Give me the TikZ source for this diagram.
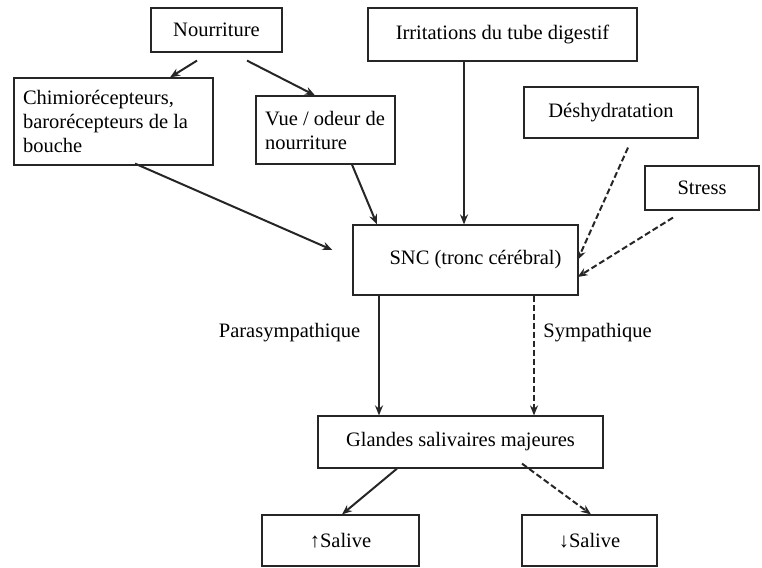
\documentclass[tikz,border=0pt]{standalone}
\usepackage{fontspec}
\setmainfont{Liberation Serif}
\usetikzlibrary{arrows.meta}
\begin{document}
\begin{tikzpicture}[x=1pt,y=-1pt,
  box/.style={draw=black!85, line width=1.2pt, inner sep=0pt, font=\fontsize{20.5}{24}\selectfont},
  lbl/.style={inner sep=0pt, font=\fontsize{20.5}{24}\selectfont},
  arr/.style={draw=black!85, line width=2pt, -{Stealth[length=10pt,width=8pt]}},
  darr/.style={arr, dash pattern=on 6pt off 3pt}]
\useasboundingbox (0,0) rectangle (762,567);
\node[box, minimum width=131pt, minimum height=44pt] (nour) at (216.5,30) {Nourriture};
\node[box, minimum width=269pt, minimum height=53pt] (irr) at (502.5,34.5) {Irritations du tube digestif};
\node[box, minimum width=199pt, minimum height=87pt, text width=181pt, align=flush left] (chimio) at (113.5,121.5) {Chimiorécepteurs,\\barorécepteurs de la\\bouche};
\node[box, minimum width=139pt, minimum height=68pt, text width=121pt, align=flush left] (vue) at (325.5,130) {Vue / odeur de\\nourriture\\[4pt]};
\node[box, minimum width=174pt, minimum height=51pt] (desh) at (611,112.5) {Déshydratation\hspace{12pt}};
\node[box, minimum width=114pt, minimum height=44pt] (stress) at (702,188) {Stress};
\node[box, minimum width=225pt, minimum height=70pt] (snc) at (465.5,260) {\raisebox{-6pt}{\hspace{20pt}SNC (tronc cérébral)}};
\node[box, minimum width=285pt, minimum height=52pt] (gland) at (460.5,442) {Glandes salivaires majeures\hspace{20pt}};
\node[box, minimum width=157pt, minimum height=51pt] (up) at (340.5,540.5) {\raisebox{-4pt}{↑Salive}};
\node[box, minimum width=135pt, minimum height=51pt] (down) at (589.5,540.5) {\raisebox{-4pt}{↓Salive}};
\node[lbl] (para) at (289.5,333) {Parasympathique};
\node[lbl] (symp) at (597.5,333) {Sympathique};
\draw[arr] ([shift={(-19.5,8)}]nour.south) -- ([shift={(56.5,0)}]chimio.north);
\draw[arr] ([shift={(30.5,8)}]nour.south) -- ([shift={(-10.5,0)}]vue.north);
\draw[arr] ([shift={(21.5,-2)}]chimio.south) -- ([shift={(-20,-10)}]snc.west);
\draw[arr] ([shift={(26.5,0)}]vue.south) -- ([shift={(-88.5,0)}]snc.north);
\draw[arr] ([shift={(-38.5,0)}]irr.south) -- ([shift={(-1.5,0)}]snc.north);
\draw[darr] ([shift={(17,9)}]desh.south) -- ([shift={(-1,0)}]snc.east);
\draw[darr] ([shift={(-29,7)}]stress.south) -- ([shift={(-1,17)}]snc.east);
\draw[arr] ([shift={(-86.5,0)}]snc.south) -- ([shift={(-81.5,0)}]gland.north);
\draw[darr] ([shift={(68.5,0)}]snc.south) -- ([shift={(73.5,0)}]gland.north);
\draw[arr] ([shift={(-63.5,0)}]gland.south) -- ([shift={(1.5,0)}]up.north);
\draw[darr] ([shift={(61.5,-5)}]gland.south) -- ([shift={(1.5,0)}]down.north);
\end{tikzpicture}
\end{document}
